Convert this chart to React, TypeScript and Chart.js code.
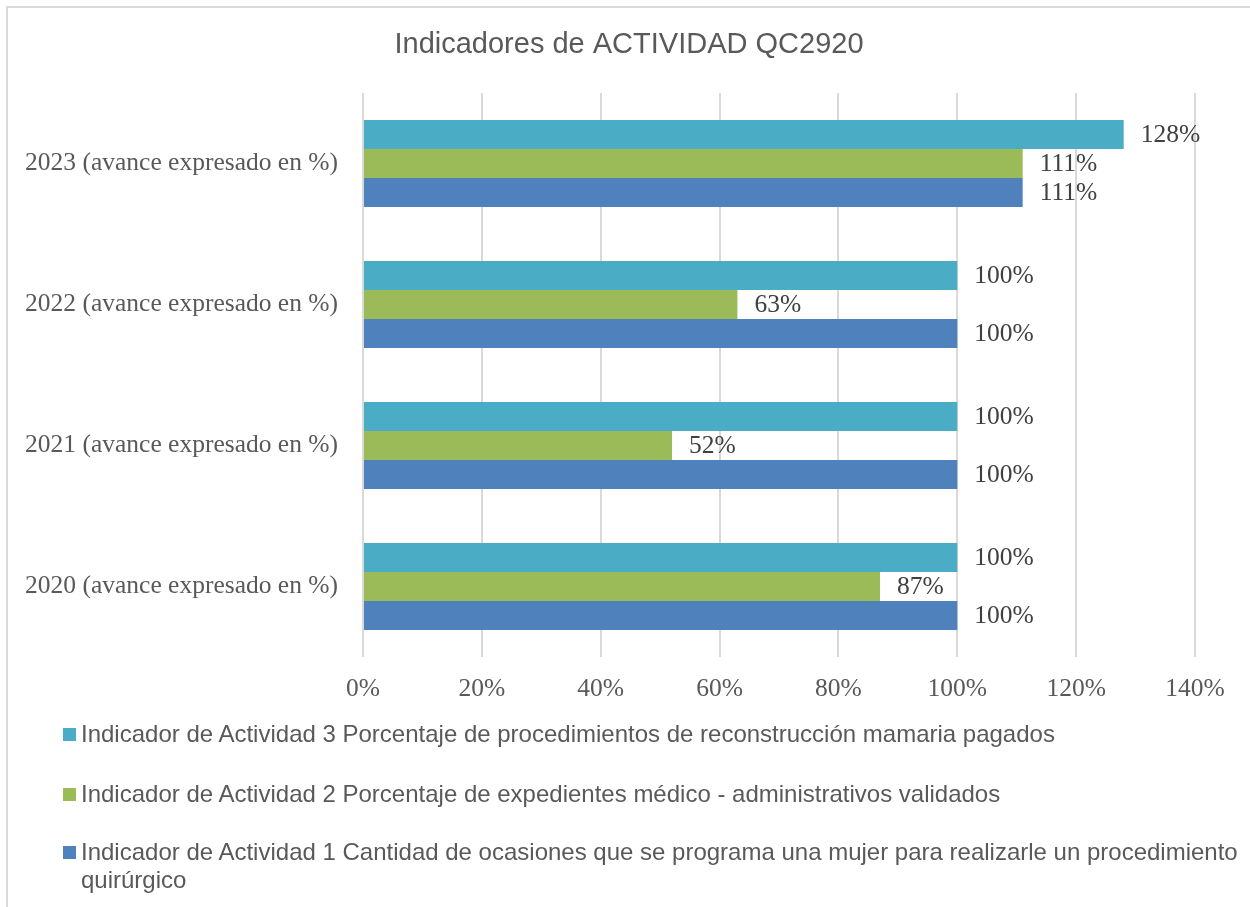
import React, { useEffect, useRef } from "react";
import { Chart, registerables } from "chart.js";

Chart.register(...registerables);

const chartTitle = "Indicadores de ACTIVIDAD QC2920";
const categories = [
  "2023 (avance expresado en %)",
  "2022 (avance expresado en %)",
  "2021 (avance expresado en %)",
  "2020 (avance expresado en %)",
];
const seriesNames = [
  "Indicador de Actividad 3 Porcentaje de procedimientos de reconstrucción mamaria pagados",
  "Indicador de Actividad 2 Porcentaje de expedientes médico - administrativos validados",
  "Indicador de Actividad 1 Cantidad de ocasiones que se programa una mujer para realizarle un procedimiento quirúrgico",
];
const indicador3 = [128, 100, 100, 100];
const indicador2 = [111, 63, 52, 87];
const indicador1 = [111, 100, 100, 100];
const seriesColors = ["#4BACC6", "#9BBB59", "#4F81BD"];
const xMin = 0;
const xMax = 140;
const xStep = 20;

const SERIF = "'Liberation Serif', serif";
const SANS = "'Liberation Sans', Arial, sans-serif";
const SERIF_SIZE = 25.5;

const valueLabels = {
  id: "valueLabels",
  afterDatasetsDraw(chart: any) {
    const ctx = chart.ctx;
    ctx.save();
    ctx.font = `${SERIF_SIZE}px ${SERIF}`;
    ctx.fillStyle = "#404040";
    ctx.textAlign = "left";
    ctx.textBaseline = "middle";
    chart.data.datasets.forEach((ds: any, di: number) => {
      const meta = chart.getDatasetMeta(di);
      meta.data.forEach((el: any, i: number) => {
        ctx.fillText(ds.data[i] + "%", el.x + 17, el.y + 1);
      });
    });
    ctx.restore();
  },
};

const titlePlugin = {
  id: "customTitle",
  afterDraw(chart: any) {
    const ctx = chart.ctx;
    ctx.save();
    ctx.font = `29px ${SANS}`;
    ctx.fillStyle = "#595959";
    ctx.textAlign = "center";
    ctx.textBaseline = "middle";
    ctx.fillText(chartTitle, 629, 45);
    ctx.restore();
  },
};

export default function App() {
  const canvasRef = useRef<HTMLCanvasElement>(null);

  useEffect(() => {
    const seriesValues = [indicador3, indicador2, indicador1];
    const chart = new Chart(canvasRef.current!, {
      type: "bar",
      data: {
        labels: categories,
        datasets: seriesNames.map((name, i) => ({
          label: name,
          data: seriesValues[i],
          backgroundColor: seriesColors[i],
          borderWidth: 0,
          categoryPercentage: 0.617,
          barPercentage: 1,
        })),
      },
      options: {
        indexAxis: "y",
        animation: false,
        responsive: false,
        maintainAspectRatio: false,
        layout: { padding: { left: 0, right: 55, top: 93, bottom: 0 } },
        plugins: {
          legend: { display: false },
          tooltip: { enabled: false },
          title: { display: false },
        },
        scales: {
          x: {
            min: xMin,
            max: xMax,
            ticks: {
              stepSize: xStep,
              callback: (v: any) => v + "%",
              color: "#595959",
              font: { family: SERIF, size: SERIF_SIZE },
              padding: 17,
            },
            grid: { color: "#d9d9d9", lineWidth: 2, drawTicks: false },
            border: { display: false },
            afterFit: (scale: any) => {
              scale.height = 250;
            },
          },
          y: {
            ticks: {
              color: "#595959",
              font: { family: SERIF, size: SERIF_SIZE },
              padding: 25,
            },
            grid: { display: false, drawTicks: false },
            border: { display: false },
            afterFit: (scale: any) => {
              scale.width = 363;
            },
          },
        },
      },
      plugins: [valueLabels, titlePlugin],
    });
    return () => chart.destroy();
  }, []);

  const legendTops = [720, 780, 838];

  return (
    <div
      style={{
        position: "absolute",
        left: 0,
        top: 0,
        width: 1250,
        height: 907,
        overflow: "hidden",
        background: "#fff",
      }}
    >
      <div
        style={{
          position: "absolute",
          left: 6,
          top: 6,
          width: 1400,
          height: 1100,
          border: "2px solid #d9d9d9",
        }}
      />
      <canvas
        ref={canvasRef}
        width={1250}
        height={907}
        style={{ position: "absolute", left: 0, top: 0, width: 1250, height: 907 }}
      />
      {seriesNames.map((name, i) => (
        <div
          key={i}
          style={{
            position: "absolute",
            left: 63,
            top: legendTops[i],
            width: 1185,
            fontFamily: SANS,
            fontSize: 24,
            lineHeight: "28px",
            color: "#595959",
            display: "flex",
            alignItems: "flex-start",
          }}
        >
          <span
            style={{
              display: "inline-block",
              width: 13,
              height: 13,
              background: seriesColors[i],
              marginTop: 8,
              marginRight: 5,
              flex: "0 0 auto",
            }}
          />
          <span>{name}</span>
        </div>
      ))}
    </div>
  );
}
